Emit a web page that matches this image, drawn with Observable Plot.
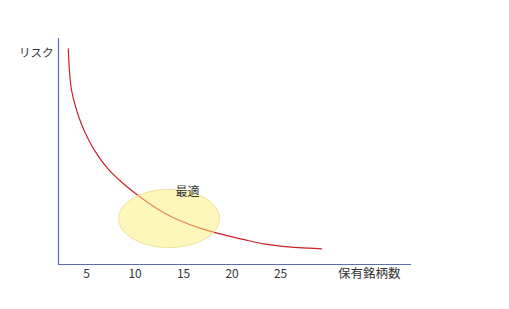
<!DOCTYPE html>
<html>
<head>
<meta charset="utf-8">
<script src="https://cdn.jsdelivr.net/npm/d3@7"></script>
<script src="https://cdn.jsdelivr.net/npm/@observablehq/plot@0.6"></script>
<style>
  html, body { margin: 0; padding: 0; background: #fff; }
  svg { display: block; }
</style>
</head>
<body>
<div id="chart"></div>
<script>
// Holdings (number of stocks) vs risk curve
const holdings = [3.11, 3.25, 3.45, 3.87, 4.45, 5.24, 6.27, 7.30, 8.68, 10.39, 12.11, 13.84, 15.55, 17.27, 18.99, 20.02, 21.73, 23.45, 25.18, 26.89, 29.23];
const risk     = [95.4, 84.4, 77.0, 69.6, 62.3, 54.9, 47.5, 41.9, 36.2, 30.3, 25.1, 20.9, 17.8, 15.3, 13.3, 12.2, 10.5, 9.0, 8.05, 7.48, 6.95];

// Tick labels on the x axis
const xTicks = [5, 10, 15, 20, 25];

// "Optimal" region (ellipse bounds in data units)
const optimumX = [8.3, 18.7];
const optimumY = [7.5, 33.2];
const optimumLabel = "最適";
const optimumLabelPos = [15.4, 31.9];

const xTitle = "保有銘柄数";
const yTitle = "リスク";

const curveData = holdings.map((h, i) => ({x: h, y: risk[i]}));

// ellipse outline from the region bounds
const cx = (optimumX[0] + optimumX[1]) / 2, rx = (optimumX[1] - optimumX[0]) / 2;
const cy = (optimumY[0] + optimumY[1]) / 2, ry = (optimumY[1] - optimumY[0]) / 2;
const ellipse = d3.range(0, 96).map(i => {
  const t = 2 * Math.PI * i / 96;
  return {x: cx + rx * Math.cos(t), y: cy + ry * Math.sin(t)};
});

const font = "'Noto Sans CJK JP', 'Noto Sans', sans-serif";
const axisColor = "#5b6db5";

const chart = Plot.plot({
  width: 509,
  height: 309,
  marginLeft: 58,
  marginRight: 98,
  marginTop: 38,
  marginBottom: 45,
  style: {fontFamily: font, background: "#fff", color: "#333"},
  x: {domain: [2.1, 38.5], axis: null},
  y: {domain: [0, 100], axis: null},
  marks: [
    Plot.axisX({ticks: xTicks, label: null, tickSize: 0, tickPadding: 5, fontSize: 12, tickFormat: d => String(d), fill: "#333"}),
    Plot.line(curveData, {x: "x", y: "y", stroke: "#cc2027", strokeWidth: 1.2, curve: "catmull-rom"}),
    Plot.line(ellipse, {x: "x", y: "y", fill: "#fbf07a", fillOpacity: 0.5, stroke: "#ede39a", strokeWidth: 1, curve: "linear-closed"}),
    Plot.ruleX([2.1], {y1: 0, y2: 100, stroke: axisColor, strokeWidth: 1.2}),
    Plot.ruleY([0], {x1: 2.1, x2: 38.5, stroke: axisColor, strokeWidth: 1.2}),
    Plot.text([optimumLabel], {x: () => optimumLabelPos[0], y: () => optimumLabelPos[1], text: d => d, fontSize: 12, fill: "#333"}),
    Plot.text([xTitle], {frameAnchor: "bottom-right", text: d => d, textAnchor: "end", dx: -11, dy: 13, fontSize: 12.5, fill: "#333"}),
    Plot.text([yTitle], {frameAnchor: "top-left", text: d => d, textAnchor: "end", dx: -5, dy: 10, fontSize: 11.5, fill: "#333"})
  ]
});
document.getElementById("chart").appendChild(chart);
</script>
</body>
</html>
